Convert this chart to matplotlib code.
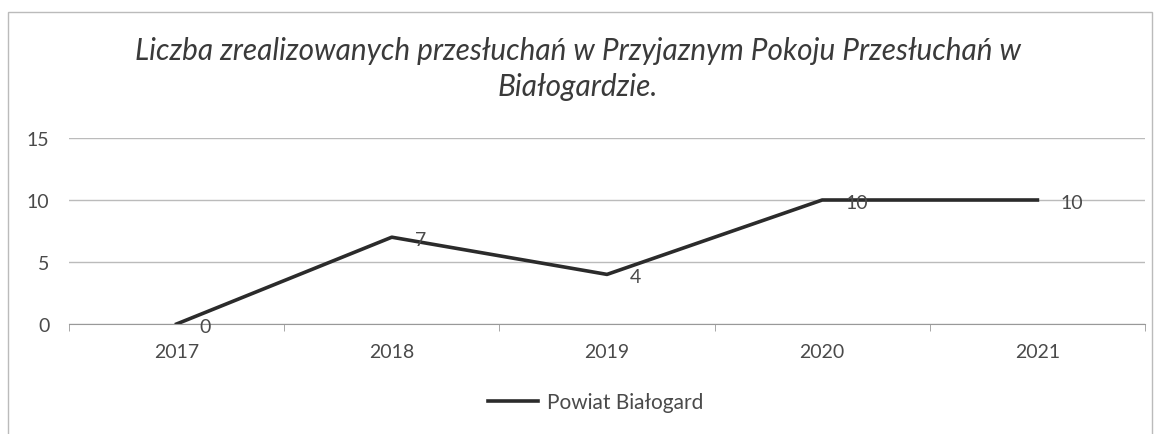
import matplotlib
matplotlib.use("Agg")
import matplotlib.pyplot as plt
from matplotlib.patches import Rectangle
from matplotlib.lines import Line2D

years = ["2017", "2018", "2019", "2020", "2021"]
values = [0, 7, 4, 10, 10]
series_name = "Powiat Białogard"
title = "Liczba zrealizowanych przesłuchań w Przyjaznym Pokoju Przesłuchań w\nBiałogardzie."
yticks = [0, 5, 10, 15]

plt.rcParams['font.family'] = ['Lato', 'DejaVu Sans']

fig = plt.figure(figsize=(11.59, 4.35), dpi=100)
ax = fig.add_axes([69 / 1159, 1 - 325 / 435, 1076 / 1159, 186 / 435])

x = list(range(len(years)))
ax.plot(x, values, color="#2b2b2b", linewidth=2.6, solid_joinstyle="round")

for xi, v in zip(x, values):
    ax.annotate(str(v), (xi, v), xytext=(16.5, -1.5), textcoords="offset points",
                ha="left", va="center", fontsize=14, color="#4a4a4a")

ax.set_xlim(-0.5, len(years) - 0.5)
ax.set_ylim(0, 15)
ax.set_yticks(yticks)
ax.set_xticks(x)
ax.set_xticklabels(years)
ax.set_xticks([i - 0.5 for i in range(len(years) + 1)], minor=True)
ax.tick_params(axis="x", which="major", length=0, pad=14, labelsize=14, labelcolor="#4a4a4a")
ax.tick_params(axis="x", which="minor", length=5, color="#999999", direction="out")
ax.tick_params(axis="y", length=0, pad=14, labelsize=14, labelcolor="#4a4a4a")
ax.grid(axis="y", color="#bbbbbb", linewidth=1)
ax.set_axisbelow(True)
for s in ["top", "right", "left"]:
    ax.spines[s].set_visible(False)
ax.spines["bottom"].set_color("#999999")

fig.text(0.4985, 0.915, title, ha="center", va="top", fontsize=21.4, style="italic",
         color="#3a3a3a", linespacing=1.36)

handle = Line2D([], [], color="#2b2b2b", linewidth=2.6)
fig.legend([handle], [series_name], loc="center", bbox_to_anchor=(0.514, 0.073),
           frameon=False, fontsize=15, handlelength=2.4, handletextpad=0.4,
           labelcolor="#4a4a4a")

fig.patches.append(Rectangle((8 / 1159, -0.01), 1144 / 1159, 1 - 13 / 435 + 0.01,
                             transform=fig.transFigure, fill=False,
                             edgecolor="#bbbbbb", linewidth=1))

fig.savefig("out.png", dpi=100, facecolor="white")
